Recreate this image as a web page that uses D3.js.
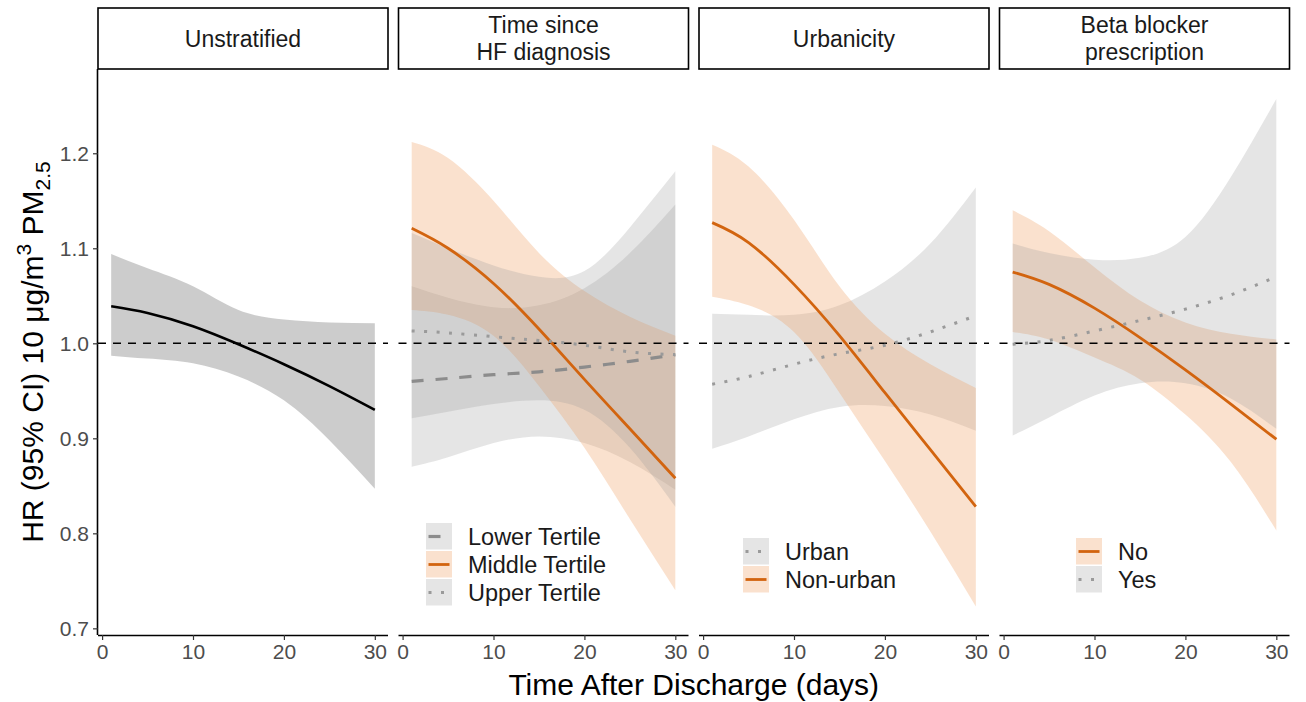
<!DOCTYPE html>
<html>
<head>
<meta charset="utf-8">
<script src="https://cdn.jsdelivr.net/npm/d3@7"></script>
<style>
  body { margin: 0; background: #fff; }
  text { font-family: "Liberation Sans", Arial, sans-serif; }
</style>
</head>
<body>
<svg id="chart" width="1306" height="702"></svg>
<script>
const days = [1, 5, 10, 15, 20, 25, 30];
const panelNames = [["Unstratified"], ["Time since", "HF diagnosis"], ["Urbanicity"], ["Beta blocker", "prescription"]];
const yTicks = [0.7, 0.8, 0.9, 1.0, 1.1, 1.2];
const xTicks = [0, 10, 20, 30];

// Unstratified
const unstratFit = [1.039, 1.032, 1.018, 0.999, 0.978, 0.955, 0.930];
const unstratLo  = [0.987, 0.984, 0.979, 0.965, 0.940, 0.898, 0.847];
const unstratHi  = [1.094, 1.079, 1.060, 1.035, 1.025, 1.022, 1.021];

// Time since HF diagnosis
const lowerTertFit = [0.960, 0.963, 0.967, 0.970, 0.975, 0.981, 0.988];
const lowerTertLo  = [0.870, 0.880, 0.895, 0.902, 0.895, 0.875, 0.846];
const lowerTertHi  = [1.060, 1.048, 1.038, 1.040, 1.058, 1.095, 1.146];
const middleTertFit = [1.121, 1.100, 1.063, 1.015, 0.962, 0.910, 0.858];
const middleTertLo  = [1.035, 1.030, 1.008, 0.955, 0.890, 0.815, 0.740];
const middleTertHi  = [1.212, 1.195, 1.150, 1.095, 1.055, 1.028, 1.008];
const upperTertFit = [1.013, 1.011, 1.007, 1.003, 0.998, 0.991, 0.988];
const upperTertLo  = [0.921, 0.928, 0.936, 0.940, 0.930, 0.890, 0.828];
const upperTertHi  = [1.116, 1.100, 1.082, 1.070, 1.076, 1.122, 1.181];

// Urbanicity
const urbanFit = [0.957, 0.965, 0.978, 0.989, 0.998, 1.012, 1.029];
const urbanLo  = [0.889, 0.902, 0.920, 0.933, 0.934, 0.925, 0.908];
const urbanHi  = [1.031, 1.030, 1.030, 1.040, 1.065, 1.105, 1.164];
const nonUrbanFit = [1.127, 1.106, 1.062, 1.008, 0.948, 0.888, 0.828];
const nonUrbanLo  = [1.049, 1.040, 1.012, 0.948, 0.876, 0.802, 0.723];
const nonUrbanHi  = [1.209, 1.186, 1.130, 1.060, 1.010, 0.978, 0.953];

// Beta blocker prescription
const bbNoFit = [1.075, 1.062, 1.037, 1.006, 0.972, 0.936, 0.899];
const bbNoLo  = [1.012, 1.004, 0.985, 0.962, 0.925, 0.875, 0.803];
const bbNoHi  = [1.140, 1.118, 1.080, 1.045, 1.022, 1.010, 1.004];
const bbYesFit = [0.999, 1.003, 1.013, 1.024, 1.036, 1.051, 1.070];
const bbYesLo  = [0.903, 0.922, 0.945, 0.958, 0.958, 0.942, 0.910];
const bbYesHi  = [1.105, 1.095, 1.088, 1.090, 1.112, 1.175, 1.257];

const styles = {
    black:  { stroke: "#000", fill: "#999", op: 0.5, dash: null, width: 2.6 },
    orange: { stroke: "#d2640f", fill: "#ee9a5c", op: 0.3, dash: null, width: 2.8 },
    dashed: { stroke: "#8c8c8c", fill: "#999", op: 0.25, dash: "12,12", width: 3.2 },
    dotted: { stroke: "#9a9a9a", fill: "#999", op: 0.25, dash: "3,9.5", width: 3 },
};

const series = [
    { panel: 0, fit: unstratFit, lo: unstratLo, hi: unstratHi, style: "black" },
    { panel: 1, fit: lowerTertFit, lo: lowerTertLo, hi: lowerTertHi, style: "dashed" },
    { panel: 1, fit: middleTertFit, lo: middleTertLo, hi: middleTertHi, style: "orange" },
    { panel: 1, fit: upperTertFit, lo: upperTertLo, hi: upperTertHi, style: "dotted" },
    { panel: 2, fit: urbanFit, lo: urbanLo, hi: urbanHi, style: "dotted" },
    { panel: 2, fit: nonUrbanFit, lo: nonUrbanLo, hi: nonUrbanHi, style: "orange" },
    { panel: 3, fit: bbNoFit, lo: bbNoLo, hi: bbNoHi, style: "orange" },
    { panel: 3, fit: bbYesFit, lo: bbYesLo, hi: bbYesHi, style: "dotted" },
];

const legends = [
    null,
    { x: 426, y: 523, labels: ["Lower Tertile", "Middle Tertile", "Upper Tertile"], styles: ["dashed", "orange", "dotted"] },
    { x: 743, y: 538, labels: ["Urban", "Non-urban"], styles: ["dotted", "orange"] },
    { x: 1076, y: 538, labels: ["No", "Yes"], styles: ["orange", "dotted"] },
];

const panelW = 290, panelTop = 69, panelBottom = 635, stripTop = 8;
const panelLeft = [98, 398.5, 699, 999.5];

const svg = d3.select("#chart");
const y = d3.scaleLinear().domain([0.693, 1.2887]).range([panelBottom, panelTop]);

panelNames.forEach((name, i) => {
    const x0 = panelLeft[i];
    const x = d3.scaleLinear().domain([-0.45, 31.45]).range([x0, x0 + panelW]);
    const g = svg.append("g");

    // bands first, then lines
    const mine = series.filter((s) => s.panel == i);
    mine.forEach((s) => {
        const st = styles[s.style];
        const area = d3.area()
            .x((d, k) => x(days[k]))
            .y0((d, k) => y(s.lo[k]))
            .y1((d, k) => y(s.hi[k]))
            .curve(d3.curveNatural);
        g.append("path")
            .attr("d", area(days))
            .attr("fill", st.fill)
            .attr("fill-opacity", st.op);
    });

    // reference line at HR = 1
    g.append("line")
        .attr("x1", x0).attr("x2", x0 + panelW)
        .attr("y1", y(1)).attr("y2", y(1))
        .attr("stroke", "#000")
        .attr("stroke-width", 1.4)
        .attr("stroke-dasharray", "8,7");

    mine.forEach((s) => {
        const st = styles[s.style];
        const line = d3.line()
            .x((d, k) => x(days[k]))
            .y((d, k) => y(s.fit[k]))
            .curve(d3.curveNatural);
        g.append("path")
            .attr("d", line(days))
            .attr("fill", "none")
            .attr("stroke", st.stroke)
            .attr("stroke-width", st.width)
            .attr("stroke-dasharray", st.dash);
    });

    // strip
    g.append("rect")
        .attr("x", x0).attr("y", stripTop)
        .attr("width", panelW).attr("height", panelTop - stripTop)
        .attr("fill", "#fff")
        .attr("stroke", "#000")
        .attr("stroke-width", 1.6);
    const lineGap = 26.5;
    const firstY = (stripTop + panelTop) / 2 + 8 - (name.length - 1) * lineGap / 2;
    name.forEach((t, k) => {
        g.append("text")
            .attr("x", x0 + panelW / 2)
            .attr("y", firstY + k * lineGap)
            .attr("text-anchor", "middle")
            .attr("font-size", 23)
            .attr("fill", "#1a1a1a")
            .text(t);
    });

    // x axis
    const xAxis = g.append("g")
        .attr("transform", `translate(0,${panelBottom})`)
        .call(d3.axisBottom(x).tickValues(xTicks).tickSize(5).tickPadding(4));
    xAxis.select(".domain").attr("d", `M${x0},0.5H${x0 + panelW}`).attr("stroke", "#000").attr("stroke-width", 1.6);
    xAxis.selectAll(".tick line").attr("stroke", "#333").attr("stroke-width", 1.2);
    xAxis.selectAll(".tick text")
        .attr("font-size", 21)
        .attr("fill", "#4d4d4d")
        .style("font-family", "'Liberation Sans', Arial, sans-serif");

    if (i == 0) {
        const yAxis = g.append("g")
            .attr("transform", `translate(${x0},0)`)
            .call(d3.axisLeft(y).tickValues(yTicks).tickFormat(d3.format(".1f")).tickSize(5).tickPadding(4));
        yAxis.select(".domain").attr("d", `M-0.5,${panelTop}V${panelBottom}`).attr("stroke", "#000").attr("stroke-width", 1.6);
        yAxis.selectAll(".tick line").attr("stroke", "#333").attr("stroke-width", 1.2);
        yAxis.selectAll(".tick text")
            .attr("font-size", 21)
            .attr("fill", "#4d4d4d")
            .style("font-family", "'Liberation Sans', Arial, sans-serif");
    }

    // legend inside panel
    const lg = legends[i];
    if (lg) {
        const keyW = 26, keyH = 28;
        lg.labels.forEach((lab, k) => {
            const st = styles[lg.styles[k]];
            const ky = lg.y + k * keyH;
            g.append("rect")
                .attr("x", lg.x).attr("y", ky)
                .attr("width", keyW).attr("height", keyH - 1.5)
                .attr("fill", st.fill)
                .attr("fill-opacity", st.op);
            g.append("line")
                .attr("x1", lg.x + 2.5).attr("x2", lg.x + keyW - 2.5)
                .attr("y1", ky + keyH / 2 - 0.5).attr("y2", ky + keyH / 2 - 0.5)
                .attr("stroke", st.stroke)
                .attr("stroke-width", st.width)
                .attr("stroke-dasharray", st.dash);
            g.append("text")
                .attr("x", lg.x + keyW + 16)
                .attr("y", ky + keyH / 2 + 8)
                .attr("font-size", 23.5)
                .attr("fill", "#1a1a1a")
                .text(lab);
        });
    }
});

// axis titles
svg.append("text")
    .attr("x", (panelLeft[0] + panelLeft[3] + panelW) / 2)
    .attr("y", 695)
    .attr("text-anchor", "middle")
    .attr("font-size", 30)
    .attr("fill", "#000")
    .text("Time After Discharge (days)");

const yTitle = svg.append("text")
    .attr("transform", `translate(43,${(panelTop + panelBottom) / 2}) rotate(-90)`)
    .attr("text-anchor", "middle")
    .attr("font-size", 30)
    .attr("fill", "#000");
yTitle.append("tspan").text("HR (95% CI) 10 μg/m");
yTitle.append("tspan").attr("font-size", 21).attr("dy", -12).text("3");
yTitle.append("tspan").attr("dy", 12).text(" PM");
yTitle.append("tspan").attr("font-size", 21).attr("dy", 7).text("2.5");
</script>
</body>
</html>
